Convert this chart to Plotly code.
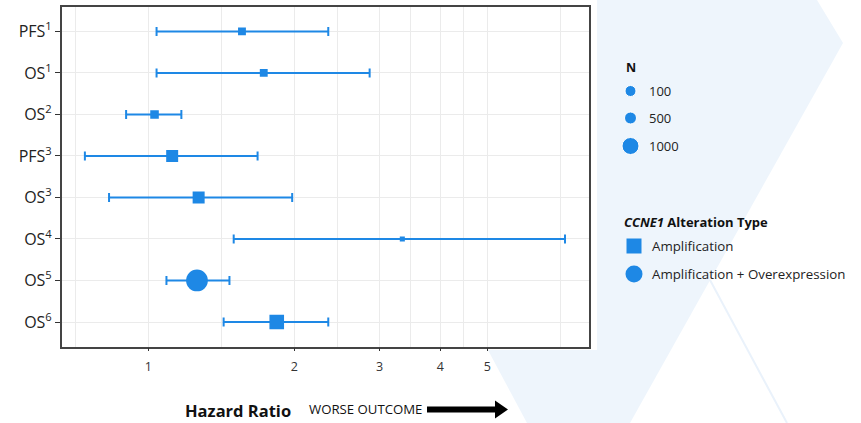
import numpy as np
import plotly.graph_objects as go

# ---- data -------------------------------------------------------------
studies = ["PFS<sup>1</sup>", "OS<sup>1</sup>", "OS<sup>2</sup>", "PFS<sup>3</sup>",
           "OS<sup>3</sup>", "OS<sup>4</sup>", "OS<sup>5</sup>", "OS<sup>6</sup>"]
hazard_ratio = [1.56, 1.73, 1.03, 1.12, 1.27, 3.34, 1.26, 1.84]
ci_lower = [1.04, 1.04, 0.90, 0.74, 0.83, 1.50, 1.09, 1.43]
ci_upper = [2.35, 2.86, 1.17, 1.68, 1.98, 7.23, 1.47, 2.35]
sample_n = [55, 55, 65, 480, 500, 15, 2900, 760]
alteration = ["Amplification", "Amplification", "Amplification", "Amplification",
              "Amplification", "Amplification", "Amplification + Overexpression",
              "Amplification"]

x_breaks = [0.5, 1, 2, 3, 4, 5, 10]
x_tick_values = [1, 2, 3, 4, 5]
n_legend_levels = [100, 500, 1000]
alteration_types = ["Amplification", "Amplification + Overexpression"]

# ---- styling ----------------------------------------------------------
W, H = 861, 423
BLUE = "#1E88E5"
GRID = "#EBEBEB"
FONT = "Open Sans"
SYMBOLS = {"Amplification": "square", "Amplification + Overexpression": "circle"}


def n_to_size(n):
    """Marker diameter (px) for a sample size."""
    return float(np.interp(n, [0, 100, 500, 1000, 3000], [4, 11, 12, 17, 22]))


# panel placement in pixels
P_LEFT, P_RIGHT, P_TOP, P_BOTTOM = 61.7, 588.7, 6.7, 346.7
x_dom = [P_LEFT / W, P_RIGHT / W]
y_dom = [1 - P_BOTTOM / H, 1 - P_TOP / H]

# minor gridlines sit half-way (in log space) between the major breaks
minor_breaks = [float(np.sqrt(a * b)) for a, b in zip(x_breaks[:-1], x_breaks[1:])]

fig = go.Figure()

# ---- forest plot (x2 / y2) -------------------------------------------
hr = np.array(hazard_ratio)
lo = np.array(ci_lower)
hi = np.array(ci_upper)
n = np.array(sample_n)
for kind in alteration_types:
    idx = [i for i, a in enumerate(alteration) if a == kind]
    fig.add_trace(go.Scatter(
        x=hr[idx], y=[studies[i] for i in idx],
        mode="markers",
        marker=dict(symbol=SYMBOLS[kind], color=BLUE, opacity=1,
                    size=[n_to_size(v) for v in n[idx]], line=dict(width=0)),
        error_x=dict(type="data", symmetric=False,
                     array=hi[idx] - hr[idx], arrayminus=hr[idx] - lo[idx],
                     color=BLUE, thickness=2, width=4.5),
        xaxis="x2", yaxis="y2", showlegend=False, hoverinfo="skip",
    ))

# reference line at HR = 1
fig.add_shape(type="line", xref="x2", yref="y2 domain", x0=0, x1=0, y0=0, y1=1,
              line=dict(color="black", width=2, dash="dot"), layer="above")

# ---- background decoration and legend (pixel axes x / y) -------------
fig.add_shape(type="path", xref="x", yref="y", layer="below",
              path="M 301,0 L 817,0 L 843,43 L 630,423 L 527,423 Z",
              fillcolor="#EEF5FC", line=dict(width=0))
fig.add_shape(type="rect", xref="x", yref="y", layer="below",
              x0=0, x1=597, y0=0, y1=350, fillcolor="white", line=dict(width=0))
fig.add_shape(type="line", xref="x", yref="y", layer="below",
              x0=710, y0=280, x1=787, y1=423, line=dict(color="#EAF2FB", width=2))

# size legend
fig.add_annotation(x=624, y=67, xref="x", yref="y", text="<b>N</b>", showarrow=False,
                   xanchor="left", yanchor="middle", font=dict(size=12.5, color="#111"))
leg_y_n = [91, 118, 146]
fig.add_trace(go.Scatter(
    x=[630.5] * len(n_legend_levels), y=leg_y_n, mode="markers",
    marker=dict(symbol="circle", color=BLUE, opacity=1,
                size=[n_to_size(v) for v in n_legend_levels]),
    xaxis="x", yaxis="y", showlegend=False, hoverinfo="skip"))
for yy, lvl in zip(leg_y_n, n_legend_levels):
    fig.add_annotation(x=647, y=yy, xref="x", yref="y", text=str(lvl), showarrow=False,
                       xanchor="left", yanchor="middle", font=dict(size=13, color="#222"))

# alteration type legend
fig.add_annotation(x=622, y=222, xref="x", yref="y",
                   text="<b><i>CCNE1</i> Alteration Type</b>", showarrow=False,
                   xanchor="left", yanchor="middle", font=dict(size=13, color="#111"))
leg_y_t = [246, 274]
for yy, kind in zip(leg_y_t, alteration_types):
    fig.add_trace(go.Scatter(
        x=[634], y=[yy], mode="markers",
        marker=dict(symbol=SYMBOLS[kind], color=BLUE, opacity=1,
                    size=15 if kind == "Amplification" else 17),
        xaxis="x", yaxis="y", showlegend=False, hoverinfo="skip"))
    fig.add_annotation(x=650, y=yy, xref="x", yref="y", text=kind, showarrow=False,
                       xanchor="left", yanchor="middle", font=dict(size=13.3, color="#222"))

# axis title and direction arrow
fig.add_annotation(x=238, y=410, xref="x", yref="y", text="<b>Hazard Ratio</b>",
                   showarrow=False, xanchor="center", yanchor="middle",
                   font=dict(size=16.5, color="#111"))
fig.add_annotation(x=307, y=409, xref="x", yref="y", text="WORSE OUTCOME",
                   showarrow=False, xanchor="left", yanchor="middle",
                   font=dict(size=13.2, color="#111"))
fig.add_shape(type="path", xref="x", yref="y", layer="above",
              path="M 427,406.5 L 495,406.5 L 495,400.5 L 508,409.5 L 495,418.5 "
                   "L 495,412.5 L 427,412.5 Z",
              fillcolor="black", line=dict(width=0))

fig.update_layout(
    width=W, height=H,
    margin=dict(l=0, r=0, t=0, b=0, pad=0),
    paper_bgcolor="white", plot_bgcolor="rgba(0,0,0,0)",
    font=dict(family=FONT, color="#222"),
    showlegend=False,
    xaxis=dict(domain=[0, 1], range=[0, W], visible=False, fixedrange=True),
    yaxis=dict(domain=[0, 1], range=[H, 0], visible=False, fixedrange=True),
    xaxis2=dict(
        type="log", domain=x_dom, anchor="y2",
        range=[(P_LEFT - 148.3) / 485, (P_RIGHT - 148.3) / 485],
        tickmode="array", tickvals=x_tick_values, ticktext=[str(v) for v in x_tick_values],
        ticks="outside", ticklen=3, tickcolor="#333", tickwidth=1,
        tickfont=dict(size=12.5, color="#333"), ticklabelstandoff=5,
        showgrid=True, gridcolor=GRID, gridwidth=1,
        minor=dict(tickmode="array", tickvals=minor_breaks, showgrid=True,
                   gridcolor=GRID, gridwidth=1, ticks=""),
        showline=True, linecolor="#444", linewidth=1.5, mirror=True, zeroline=False,
    ),
    yaxis2=dict(
        type="category", domain=y_dom, anchor="x2",
        categoryorder="array", categoryarray=studies,
        range=[7.595, -0.595],
        ticks="outside", ticklen=5, tickcolor="#333", tickwidth=1,
        tickfont=dict(size=16, color="#222"),
        showgrid=True, gridcolor=GRID, gridwidth=1,
        showline=True, linecolor="#444", linewidth=1.5, mirror=True, zeroline=False,
    ),
)

fig.write_html("out.html")
